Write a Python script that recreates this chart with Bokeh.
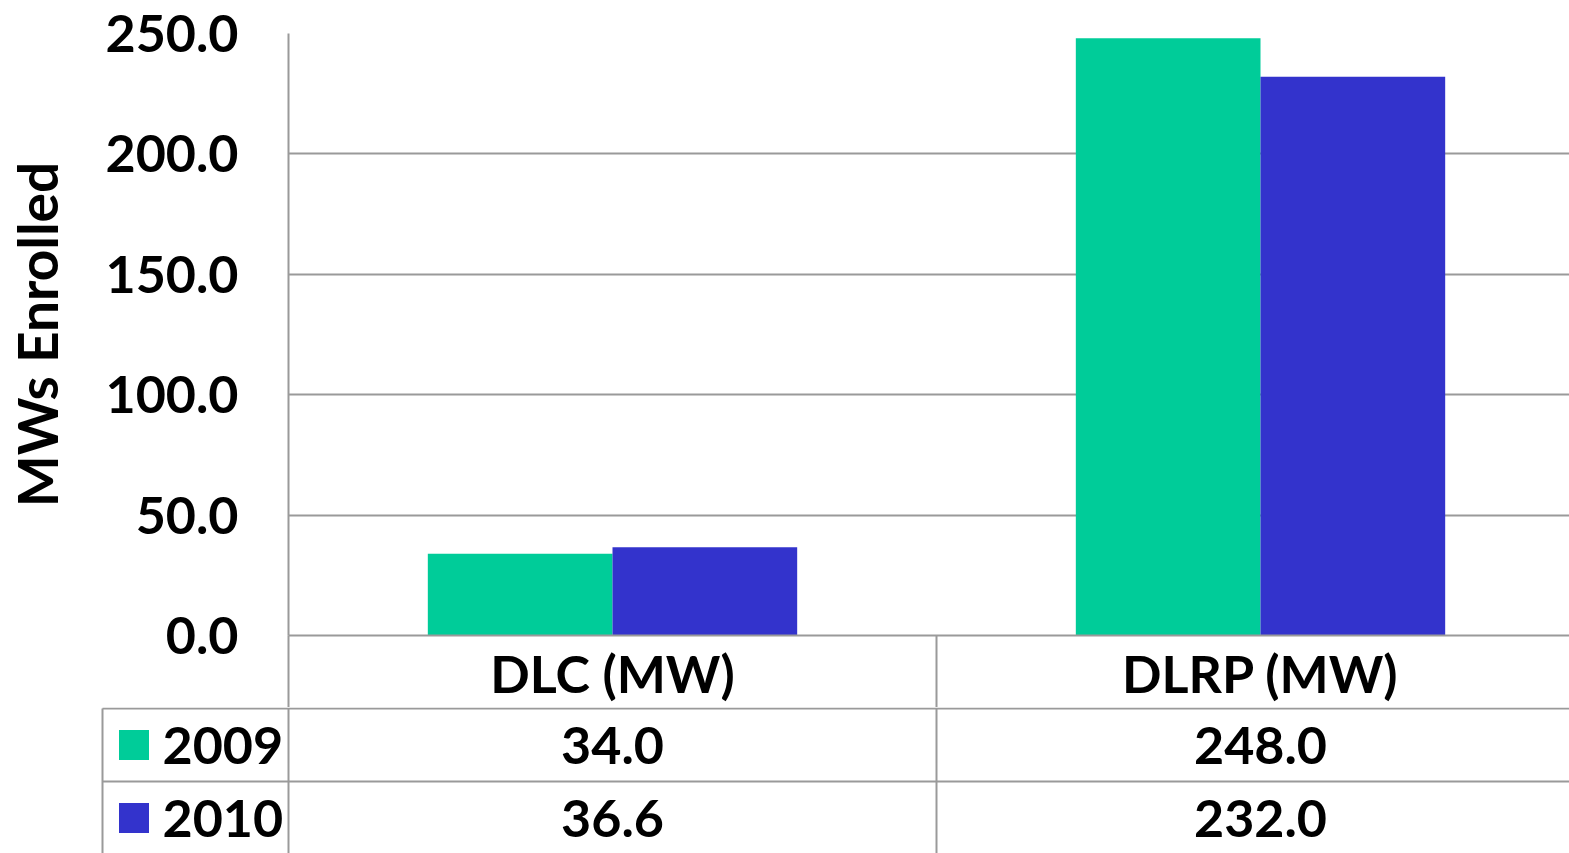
from bokeh.plotting import figure
from bokeh.models import Range1d, FixedTicker, PrintfTickFormatter, ColumnDataSource
from bokeh.core.properties import value
from bokeh.embed import file_html
from bokeh.resources import INLINE

# ---- data ----
categories = ["DLC (MW)", "DLRP (MW)"]
series_names = ["2009", "2010"]
values_2009 = [34.0, 248.0]
values_2010 = [36.6, 232.0]
colors = ["#00CC99", "#3333CC"]
y_ticks = [0, 50, 100, 150, 200, 250]
y_label = "MWs Enrolled"

FONT = value("Lato")
FS = "52px"
GRID = "#9A9A9A"

# ---- layout constants (px) ----
W = 1569
CAT_W = 648.0          # width of one category slot
BAR_W = 0.285          # bar width in category units
LEFT = 288             # frame left in top figure
TOP = 33               # frame top
PLOT_H = 602           # pixel height of 0..250
ROW_H = 73             # table row height
TOP_H = TOP + PLOT_H + ROW_H - 1
BOT_H = 853 - TOP_H

series = [values_2009, values_2010]
ncat = len(categories)
cat_pos = list(range(ncat))                 # category centres
xr = (-0.5, (W - LEFT) / CAT_W - 0.5)

# ---- top chart (bars + category row as x axis) ----
p1 = figure(width=W, height=TOP_H, output_backend="svg", toolbar_location=None,
            x_range=Range1d(*xr), y_range=Range1d(0, 250),
            min_border_left=LEFT, min_border_right=0,
            min_border_top=TOP, min_border_bottom=ROW_H - 1)
p1.outline_line_color = None
p1.background_fill_color = "white"
p1.border_fill_color = "white"
p1.xgrid.grid_line_color = None
p1.ygrid.grid_line_color = GRID
p1.ygrid.grid_line_width = 2

p1.yaxis.ticker = FixedTicker(ticks=y_ticks)
p1.yaxis.formatter = PrintfTickFormatter(format="%.1f")
p1.yaxis.major_tick_line_color = None
p1.yaxis.minor_tick_line_color = None
p1.yaxis.axis_line_color = GRID
p1.yaxis.axis_line_width = 2
p1.yaxis.major_label_text_font = "Lato"
p1.yaxis.major_label_text_font_style = "bold"
p1.yaxis.major_label_text_font_size = FS
p1.yaxis.major_label_text_color = "black"
p1.yaxis.major_label_standoff = 44
p1.yaxis.axis_label = y_label
p1.yaxis.axis_label_text_font = "Lato"
p1.yaxis.axis_label_text_font_style = "bold"
p1.yaxis.axis_label_text_font_size = "55px"
p1.yaxis.axis_label_text_color = "black"
p1.yaxis.axis_label_standoff = 33

# x axis = category row of the data table
bounds = [c - 0.5 for c in cat_pos]
p1.xaxis.ticker = FixedTicker(ticks=cat_pos, minor_ticks=bounds)
p1.xaxis.major_label_overrides = {c: name for c, name in zip(cat_pos, categories)}
p1.xaxis.major_tick_line_color = None
p1.xaxis.major_tick_out = 0
p1.xaxis.major_tick_in = 0
p1.xaxis.minor_tick_line_color = GRID
p1.xaxis.minor_tick_line_width = 2
p1.xaxis.minor_tick_in = 0
p1.xaxis.minor_tick_out = ROW_H - 1
p1.xaxis.axis_line_color = GRID
p1.xaxis.axis_line_width = 2
p1.xaxis.major_label_text_font = "Lato"
p1.xaxis.major_label_text_font_style = "bold"
p1.xaxis.major_label_text_font_size = FS
p1.xaxis.major_label_text_color = "black"
p1.xaxis.major_label_standoff = 6 - (ROW_H - 1)

for i, (vals, col) in enumerate(zip(series, colors)):
    offset = (i - 0.5) * BAR_W
    xs = [c + offset for c in cat_pos]
    src = ColumnDataSource(dict(x=xs, top=vals))
    p1.vbar(x="x", top="top", bottom=0, width=BAR_W, source=src,
            fill_color=col, line_color=None)

# ---- data table rows ----
TAB_LEFT = 100
x0 = xr[0] - (LEFT - 102) / CAT_W
p2 = figure(width=W, height=BOT_H, output_backend="svg", toolbar_location=None,
            x_range=Range1d(xr[0] - (LEFT - TAB_LEFT) / CAT_W, xr[1]),
            y_range=Range1d(BOT_H / ROW_H, 0),
            x_axis_location=None, y_axis_location=None,
            min_border_left=TAB_LEFT, min_border_right=0,
            min_border_top=0, min_border_bottom=0)
p2.outline_line_color = None
p2.grid.grid_line_color = None
p2.background_fill_color = "white"
p2.border_fill_color = "white"

n = len(series)
top_y = 1.0 / ROW_H
row_c = [top_y + i + 0.5 for i in range(n)]
xend = xr[1] + 1
# horizontal row separators
p2.segment(x0=[x0] * n, y0=[top_y + i for i in range(n)], x1=[xend] * n,
           y1=[top_y + i for i in range(n)], line_color=GRID, line_width=2)
# vertical separators
vx = [x0] + bounds
p2.segment(x0=vx, y0=[top_y] * len(vx), x1=vx, y1=[n + 1] * len(vx),
           line_color=GRID, line_width=2)

# values
for i, vals in enumerate(series):
    p2.text(x=cat_pos, y=[row_c[i]] * len(vals),
            text=["%.1f" % v for v in vals], text_font=FONT, text_font_style="bold",
            text_font_size=FS, text_align="center", text_baseline="middle",
            text_color="black")

# legend keys
p2.scatter(x=[x0 + 31.5 / CAT_W] * n, y=row_c,
           marker="square", size=30, fill_color=colors, line_color=None)
p2.text(x=[x0 + 60 / CAT_W] * n, y=row_c,
        text=series_names, text_font=FONT, text_font_style="bold", text_font_size=FS,
        text_align="left", text_baseline="middle", text_color="black")

open("out.html", "w").write(file_html([p1, p2], INLINE))
